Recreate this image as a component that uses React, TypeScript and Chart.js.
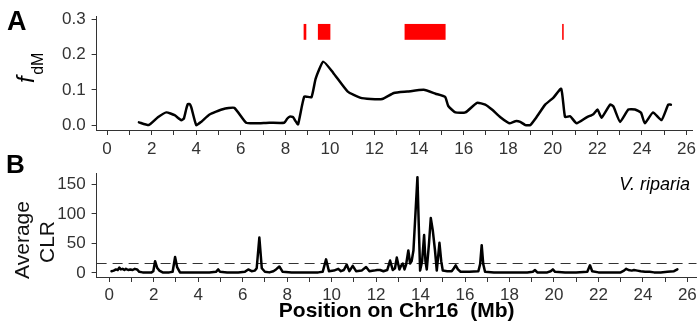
import React, { useEffect, useRef } from 'react';
import { Chart, registerables } from 'chart.js';
Chart.register(...registerables);

const FONT = "'Liberation Sans', Arial, Helvetica, sans-serif";
const INK = '#333333';

// ---- Panel A : f_dM along Chr16 (Mb) ----
const fdmPos = [1.43, 1.87, 2.28, 2.66, 3.03, 3.33, 3.45, 3.55, 3.62, 3.7, 3.78, 4.0, 4.22, 4.6, 5.19, 5.71, 6.24, 6.68, 7.28, 7.95, 8.08, 8.2, 8.35, 8.45, 8.57, 8.85, 9.17, 9.36, 9.7, 10.15, 10.8, 11.35, 11.83, 12.35, 12.87, 13.47, 14.21, 14.74, 15.17, 15.31, 15.63, 16.08, 16.6, 16.97, 17.27, 17.65, 18.05, 18.32, 18.54, 18.77, 18.99, 19.21, 19.66, 20.03, 20.38, 20.55, 20.78, 21.07, 21.52, 21.82, 22.01, 22.19, 22.57, 22.72, 23.02, 23.39, 23.69, 23.96, 24.13, 24.5, 24.88, 25.18, 25.3];
const fdmVal = [0.0076, 0.0, 0.022, 0.036, 0.028, 0.014, 0.019, 0.045, 0.059, 0.06, 0.05, 0.0, 0.009, 0.03, 0.045, 0.049, 0.0066, 0.005, 0.0066, 0.0066, 0.018, 0.024, 0.022, 0.012, 0.002, 0.081, 0.079, 0.132, 0.18, 0.148, 0.095, 0.078, 0.074, 0.074, 0.091, 0.095, 0.1, 0.089, 0.08, 0.054, 0.036, 0.036, 0.063, 0.058, 0.044, 0.022, 0.005, 0.011, 0.009, 0.0, 0.0, 0.017, 0.058, 0.078, 0.103, 0.023, 0.025, 0.005, 0.022, 0.031, 0.044, 0.021, 0.058, 0.053, 0.009, 0.044, 0.044, 0.035, 0.005, 0.036, 0.014, 0.058, 0.058];
const introStart = [8.82, 9.46, 13.35, 20.42];
const introEnd = [8.94, 10.02, 15.19, 20.49];
const introLow = 0.242;
const introHigh = 0.287;

// ---- Panel B : Average CLR ----
const clrPos = [0.1, 0.2, 0.3, 0.38, 0.45, 0.52, 0.6, 0.68, 0.75, 0.85, 0.95, 1.05, 1.15, 1.25, 1.35, 1.5, 1.7, 1.9, 1.98, 2.06, 2.15, 2.25, 2.4, 2.7, 2.85, 2.96, 3.05, 3.18, 3.5, 4.0, 4.5, 4.8, 4.9, 4.98, 5.3, 5.8, 6.1, 6.25, 6.4, 6.55, 6.63, 6.75, 6.86, 7.0, 7.2, 7.38, 7.5, 7.65, 7.8, 8.2, 8.8, 9.4, 9.6, 9.75, 9.88, 10.1, 10.3, 10.42, 10.55, 10.68, 10.8, 10.95, 11.1, 11.35, 11.55, 11.7, 11.9, 12.05, 12.18, 12.33, 12.5, 12.63, 12.75, 12.85, 12.93, 13.05, 13.12, 13.2, 13.28, 13.35, 13.45, 13.53, 13.6, 13.68, 13.77, 13.86, 13.92, 13.98, 14.07, 14.16, 14.22, 14.28, 14.38, 14.46, 14.55, 14.65, 14.73, 14.85, 14.93, 15.0, 15.2, 15.4, 15.5, 15.58, 15.68, 15.8, 16.2, 16.6, 16.68, 16.75, 16.82, 16.9, 17.3, 17.8, 18.3, 18.8, 19.05, 19.15, 19.25, 19.7, 19.85, 19.95, 20.05, 20.5, 21.0, 21.5, 21.62, 21.72, 22.0, 22.5, 23.0, 23.15, 23.25, 23.35, 23.5, 23.6, 23.75, 23.9, 24.1, 24.3, 24.5, 24.8, 25.1, 25.4, 25.55];
const clrVal = [3, 4, 6, 5, 9, 6, 7, 5, 7, 5, 6, 5, 7, 6, 2, 1, 1, 1, 3, 20, 9, 4, 1, 1, 2, 27, 10, 1, 1, 1, 1, 2, 6, 2, 1, 1, 2, 6, 3, 4, 8, 60, 8, 2, 1, 3, 6, 11, 2, 1, 1, 1, 2, 23, 3, 4, 7, 3, 5, 14, 3, 12, 3, 4, 10, 3, 4, 5, 5, 3, 5, 21, 5, 8, 26, 6, 12, 16, 6, 14, 38, 16, 20, 38, 100, 162, 80, 4, 20, 64, 20, 6, 50, 93, 72, 38, 4, 51, 20, 4, 3, 3, 8, 13, 6, 2, 2, 3, 15, 47, 15, 2, 1, 1, 1, 1, 2, 5, 1, 1, 3, 6, 2, 1, 1, 2, 13, 3, 1, 1, 1, 4, 7, 5, 4, 5, 4, 3, 2, 2, 1, 1, 2, 3, 6];
const clrThreshold = 16;

const xTickCb = (v: any) => (Math.round(Number(v)) % 2 === 0 ? String(Math.round(Number(v))) : '');

const App: React.FC = () => {
  const refA = useRef<HTMLCanvasElement | null>(null);
  const refB = useRef<HTMLCanvasElement | null>(null);

  useEffect(() => {
    Chart.defaults.font.family = FONT;

    const introPlugin = {
      id: 'intro',
      beforeDatasetsDraw(chart: any) {
        const { ctx, scales } = chart;
        const xs = scales.x, ys = scales.y;
        ctx.save();
        ctx.fillStyle = '#ff0000';
        for (let i = 0; i < introStart.length; i++) {
          const x1 = xs.getPixelForValue(introStart[i]);
          const x2 = xs.getPixelForValue(introEnd[i]);
          const y1 = ys.getPixelForValue(introHigh);
          const y2 = ys.getPixelForValue(introLow);
          ctx.fillRect(x1, y1, Math.max(1.2, x2 - x1), y2 - y1);
        }
        ctx.restore();
      },
      afterDraw(chart: any) {
        const { ctx } = chart;
        ctx.save();
        ctx.fillStyle = '#000';
        ctx.textBaseline = 'alphabetic';
        ctx.font = `bold 27px ${FONT}`;
        ctx.fillText('A', 7, 30);
        // f_dM rotated label
        ctx.translate(34, 83);
        ctx.rotate(-Math.PI / 2);
        ctx.font = `italic 24px ${FONT}`;
        ctx.fillText('f', 0, 0);
        const w = ctx.measureText('f').width;
        ctx.font = `16px ${FONT}`;
        ctx.fillText('dM', w + 1.5, 9);
        ctx.restore();
      },
    };

    const textPluginB = {
      id: 'textB',
      afterDraw(chart: any) {
        const { ctx } = chart;
        ctx.save();
        ctx.fillStyle = '#000';
        ctx.textBaseline = 'alphabetic';
        ctx.font = `bold 26px ${FONT}`;
        ctx.fillText('B', 6, 173);
        ctx.font = `italic 18px ${FONT}`;
        ctx.textAlign = 'right';
        ctx.fillText('V. riparia', 690, 190);
        ctx.textAlign = 'center';
        ctx.font = `21px ${FONT}`;
        ctx.fillStyle = '#111';
        ctx.save();
        ctx.translate(29, 240);
        ctx.rotate(-Math.PI / 2);
        ctx.fillText('Average', 0, 0);
        ctx.restore();
        ctx.save();
        ctx.translate(54, 242);
        ctx.rotate(-Math.PI / 2);
        ctx.fillText('CLR', 0, 0);
        ctx.restore();
        ctx.restore();
      },
    };

    const axisCommon = {
      border: { display: true, color: INK, width: 1 },
      grid: { display: true, drawOnChartArea: false, drawTicks: true, tickLength: 5, tickColor: INK, tickWidth: 1 },
    };

    const chartA = new Chart(refA.current as HTMLCanvasElement, {
      type: 'line',
      data: {
        datasets: [
          {
            data: fdmPos.map((p, i) => ({ x: p, y: fdmVal[i] })),
            borderColor: '#000',
            borderWidth: 2.5,
            pointRadius: 0,
            tension: 0.15,
            borderJoinStyle: 'round',
            borderCapStyle: 'round',
            fill: false,
          },
        ],
      },
      options: {
        animation: false,
        responsive: false,
        events: [],
        layout: { padding: { left: 0, right: 6, top: 15, bottom: 173 } },
        plugins: { legend: { display: false }, tooltip: { enabled: false } },
        scales: {
          x: {
            type: 'linear',
            min: -0.47,
            max: 26.25,
            ...axisCommon,
            ticks: { stepSize: 1, autoSkip: false, includeBounds: false, maxRotation: 0, padding: 4, color: INK, font: { size: 17 }, callback: xTickCb },
            afterFit: (s: any) => { s.height = 25; },
          },
          y: {
            type: 'linear',
            min: -0.014,
            max: 0.309,
            ...axisCommon,
            ticks: { stepSize: 0.1, includeBounds: false, padding: 6, color: INK, font: { size: 17 }, callback: (v: any) => Number(v).toFixed(1) },
            afterFit: (s: any) => { s.width = 96.6; },
          },
        },
      } as any,
      plugins: [introPlugin],
    });

    const chartB = new Chart(refB.current as HTMLCanvasElement, {
      type: 'line',
      data: {
        datasets: [
          {
            data: clrPos.map((p, i) => ({ x: p, y: clrVal[i] })),
            borderColor: '#000',
            borderWidth: 2.5,
            pointRadius: 0,
            tension: 0,
            borderJoinStyle: 'round',
            borderCapStyle: 'round',
            fill: false,
          },
          {
            data: [{ x: -0.57, y: clrThreshold }, { x: 26.42, y: clrThreshold }],
            borderColor: INK,
            borderWidth: 1.2,
            borderDash: [10, 6],
            pointRadius: 0,
            fill: false,
          },
        ],
      },
      options: {
        animation: false,
        responsive: false,
        events: [],
        layout: { padding: { left: 0, right: 3.3, top: 173.3, bottom: 0 } },
        plugins: { legend: { display: false }, tooltip: { enabled: false } },
        scales: {
          x: {
            type: 'linear',
            min: -0.57,
            max: 26.42,
            ...axisCommon,
            title: { display: true, text: 'Position on Chr16  (Mb)', color: '#000', font: { size: 21, weight: 'bold' }, padding: { top: 0, bottom: 4 } },
            ticks: { stepSize: 1, autoSkip: false, includeBounds: false, maxRotation: 0, padding: 3, color: INK, font: { size: 17 }, callback: xTickCb },
            afterFit: (s: any) => { s.height = 51; },
          },
          y: {
            type: 'linear',
            min: -6.8,
            max: 168.5,
            ...axisCommon,
            ticks: { stepSize: 50, includeBounds: false, padding: 6, color: INK, font: { size: 17 } },
            afterFit: (s: any) => { s.width = 96.6; },
          },
        },
      } as any,
      plugins: [textPluginB],
    });

    return () => {
      chartA.destroy();
      chartB.destroy();
    };
  }, []);

  const cs: React.CSSProperties = { position: 'absolute', left: 0, top: 0, width: 700, height: 328 };
  return (
    <div style={{ position: 'absolute', left: 0, top: 0, width: 700, height: 328, background: '#fff' }}>
      <canvas ref={refA} width={700} height={328} style={cs} />
      <canvas ref={refB} width={700} height={328} style={cs} />
    </div>
  );
};

export default App;
